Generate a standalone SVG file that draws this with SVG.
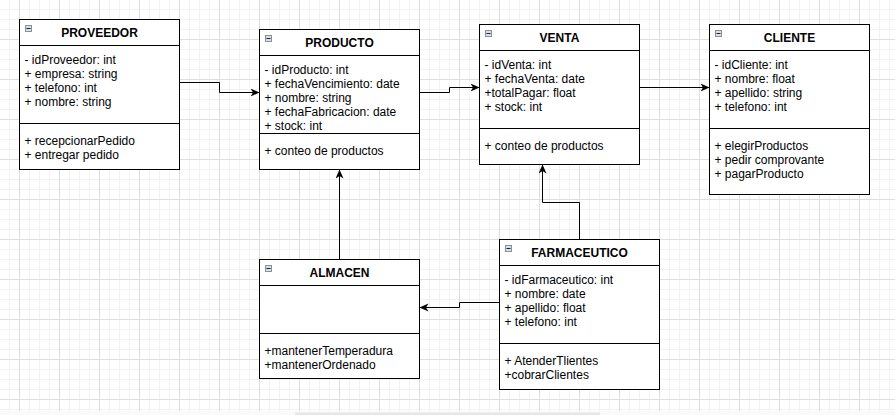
<svg xmlns="http://www.w3.org/2000/svg" width="895" height="415" viewBox="0 0 895 415">
<style>
.box{fill:#fff;stroke:#000;stroke-width:1}
.div{stroke:#000;stroke-width:1}
.t{font-family:"Liberation Sans",Arial,sans-serif;font-size:12px;fill:#000}
.title{font-family:"Liberation Sans",Arial,sans-serif;font-size:12px;font-weight:bold;fill:#000;text-anchor:middle}
.ico{fill:#d9dee7;stroke:#8a909a;stroke-width:1}
.icom{stroke:#222;stroke-width:1}
.edge{fill:none;stroke:#000;stroke-width:1;marker-end:url(#arr)}
</style>
<defs>
<pattern id="grid" x="0" y="0" width="40" height="40" patternUnits="userSpaceOnUse">
<path d="M9.5,0V40M29.5,0V40M39.5,0V40M0,9.5H40M0,19.5H40M0,29.5H40" stroke="#f2f2f2" stroke-width="1" fill="none"/>
<path d="M19.5,0V40M0,39.5H40" stroke="#dedede" stroke-width="1" fill="none"/>
</pattern>
<marker id="arr" markerUnits="userSpaceOnUse" markerWidth="12" markerHeight="10" refX="9" refY="4" orient="auto">
<path d="M0,0 L9,4 L0,8 L2.5,4 Z" fill="#000"/>
</marker>
</defs>
<rect x="0" y="0" width="895" height="415" fill="#fafafa"/>
<rect x="0" y="0" width="895" height="411" fill="#fff"/>
<rect x="0" y="0" width="895" height="411" fill="url(#grid)"/>
<rect x="295" y="412.5" width="305" height="2.5" fill="#e6e6e6"/>

<g id="connectors">
<path class="edge" d="M179.5,82.5H219.5V92.5H259.5"/>
<path class="edge" d="M419.5,92.5H449.5V87.5H479.5"/>
<path class="edge" d="M639.5,87.5H709.5"/>
<path class="edge" d="M339.5,259.5V169.5"/>
<path class="edge" d="M579.5,239.5V202.5H542.5V164.5"/>
<path class="edge" d="M499.5,302.5H459.5V307.5H419.5"/>
</g>

<g id="proveedor">
<rect class="box" x="19.5" y="19.5" width="160" height="150"/>
<line class="div" x1="19.5" y1="45.5" x2="179.5" y2="45.5"/>
<line class="div" x1="19.5" y1="123.5" x2="179.5" y2="123.5"/>
<rect class="ico" x="25.5" y="25.5" width="6" height="6"/>
<line class="icom" x1="26.5" y1="28.5" x2="30.5" y2="28.5"/>
<text class="title" x="99.5" y="37">PROVEEDOR</text>
<text class="t" x="24.5" y="63.5">- idProveedor: int</text>
<text class="t" x="24.5" y="77.5">+ empresa: string</text>
<text class="t" x="24.5" y="91.5">+ telefono: int</text>
<text class="t" x="24.5" y="105.5">+ nombre: string</text>
<text class="t" x="24.5" y="145">+ recepcionarPedido</text>
<text class="t" x="24.5" y="159">+ entregar pedido</text>
</g>

<g id="producto">
<rect class="box" x="259.5" y="29.5" width="160" height="140"/>
<line class="div" x1="259.5" y1="55.5" x2="419.5" y2="55.5"/>
<line class="div" x1="259.5" y1="133.5" x2="419.5" y2="133.5"/>
<rect class="ico" x="265.5" y="35.5" width="6" height="6"/>
<line class="icom" x1="266.5" y1="38.5" x2="270.5" y2="38.5"/>
<text class="title" x="339.5" y="47">PRODUCTO</text>
<text class="t" x="264.5" y="73.5">- idProducto: int</text>
<text class="t" x="264.5" y="87.5">+ fechaVencimiento: date</text>
<text class="t" x="264.5" y="101.5">+ nombre: string</text>
<text class="t" x="264.5" y="115.5">+ fechaFabricacion: date</text>
<text class="t" x="264.5" y="129.5">+ stock: int</text>
<text class="t" x="264.5" y="154.5">+ conteo de productos</text>
</g>

<g id="venta">
<rect class="box" x="479.5" y="24.5" width="160" height="140"/>
<line class="div" x1="479.5" y1="50.5" x2="639.5" y2="50.5"/>
<line class="div" x1="479.5" y1="128.5" x2="639.5" y2="128.5"/>
<rect class="ico" x="485.5" y="30.5" width="6" height="6"/>
<line class="icom" x1="486.5" y1="33.5" x2="490.5" y2="33.5"/>
<text class="title" x="559.5" y="42">VENTA</text>
<text class="t" x="484.5" y="68.5">- idVenta: int</text>
<text class="t" x="484.5" y="82.5">+ fechaVenta: date</text>
<text class="t" x="484.5" y="96.5">+totalPagar: float</text>
<text class="t" x="484.5" y="110.5">+ stock: int</text>
<text class="t" x="484.5" y="149.5">+ conteo de productos</text>
</g>

<g id="cliente">
<rect class="box" x="709.5" y="24.5" width="160" height="170"/>
<line class="div" x1="709.5" y1="50.5" x2="869.5" y2="50.5"/>
<line class="div" x1="709.5" y1="128.5" x2="869.5" y2="128.5"/>
<rect class="ico" x="715.5" y="30.5" width="6" height="6"/>
<line class="icom" x1="716.5" y1="33.5" x2="720.5" y2="33.5"/>
<text class="title" x="789.5" y="42">CLIENTE</text>
<text class="t" x="714.5" y="68.5">- idCliente: int</text>
<text class="t" x="714.5" y="82.5">+ nombre: float</text>
<text class="t" x="714.5" y="96.5">+ apellido: string</text>
<text class="t" x="714.5" y="110.5">+ telefono: int</text>
<text class="t" x="714.5" y="149.5">+ elegirProductos</text>
<text class="t" x="714.5" y="163.5">+ pedir comprovante</text>
<text class="t" x="714.5" y="177.5">+ pagarProducto</text>
</g>

<g id="almacen">
<rect class="box" x="259.5" y="259.5" width="160" height="119"/>
<line class="div" x1="259.5" y1="285.5" x2="419.5" y2="285.5"/>
<line class="div" x1="259.5" y1="333.5" x2="419.5" y2="333.5"/>
<rect class="ico" x="265.5" y="265.5" width="6" height="6"/>
<line class="icom" x1="266.5" y1="268.5" x2="270.5" y2="268.5"/>
<text class="title" x="339.5" y="277">ALMACEN</text>
<text class="t" x="264.5" y="354.5">+mantenerTemperadura</text>
<text class="t" x="264.5" y="368.5">+mantenerOrdenado</text>
</g>

<g id="farmaceutico">
<rect class="box" x="499.5" y="239.5" width="160" height="150"/>
<line class="div" x1="499.5" y1="265.5" x2="659.5" y2="265.5"/>
<line class="div" x1="499.5" y1="343.5" x2="659.5" y2="343.5"/>
<rect class="ico" x="505.5" y="245.5" width="6" height="6"/>
<line class="icom" x1="506.5" y1="248.5" x2="510.5" y2="248.5"/>
<text class="title" x="579.5" y="257">FARMACEUTICO</text>
<text class="t" x="504.5" y="283.5">- idFarmaceutico: int</text>
<text class="t" x="504.5" y="297.5">+ nombre: date</text>
<text class="t" x="504.5" y="311.5">+ apellido: float</text>
<text class="t" x="504.5" y="325.5">+ telefono: int</text>
<text class="t" x="504.5" y="364.5">+ AtenderTlientes</text>
<text class="t" x="504.5" y="378.5">+cobrarClientes</text>
</g>
</svg>
